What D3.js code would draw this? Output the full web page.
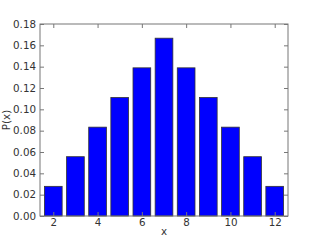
<!DOCTYPE html>
<html>
<head>
<meta charset="utf-8">
<script src="https://cdn.jsdelivr.net/npm/d3@7"></script>
<style>
  body { margin: 0; background: #fff; }
  text { font-family: "DejaVu Sans", sans-serif; }
</style>
</head>
<body>
<script>
// sum of two dice
var xs = [2, 3, 4, 5, 6, 7, 8, 9, 10, 11, 12];
var probs = [0.0278, 0.0556, 0.0833, 0.1111, 0.1389, 0.1667, 0.1389, 0.1111, 0.0833, 0.0556, 0.0278];
var xTicks = [2, 4, 6, 8, 10, 12];
var yTicks = [0, 0.02, 0.04, 0.06, 0.08, 0.10, 0.12, 0.14, 0.16, 0.18];

var margin = {top: 24, right: 32, bottom: 24, left: 40},
    width = 320 - margin.left - margin.right,
    height = 240 - margin.top - margin.bottom;

var svg = d3.select("body").append("svg")
    .attr("width", 320)
    .attr("height", 240);

var g = svg.append("g")
    .attr("transform", "translate(" + margin.left + "," + margin.top + ")");

var x = d3.scaleLinear().domain([1.4, 12.6]).range([0, width]);
var y = d3.scaleLinear().domain([0, 0.18]).range([height, 0]);
var barW = 0.8;

g.selectAll(".bar")
    .data(xs)
  .enter().append("rect")
    .attr("class", "bar")
    .attr("x", function(d) { return x(d - barW / 2); })
    .attr("width", function(d) { return x(d + barW / 2) - x(d - barW / 2); })
    .attr("y", function(d, i) { return y(probs[i]); })
    .attr("height", function(d, i) { return height - y(probs[i]); })
    .style("fill", "#0000ff")
    .style("stroke", "#333")
    .style("stroke-width", 0.8);

function styleAxis(sel) {
  sel.select(".domain").remove();
  sel.selectAll(".tick line").attr("stroke", "#777");
  sel.selectAll(".tick text").attr("fill", "#333")
    .style("font-size", "10.3px");
}

// axes with inward ticks, like matplotlib
g.append("g")
    .attr("transform", "translate(0," + height + ")")
    .call(d3.axisBottom(x).tickValues(xTicks).tickFormat(d3.format("d")).tickSizeInner(-4).tickPadding(3))
    .call(styleAxis);

g.append("g")
    .call(d3.axisLeft(y).tickValues(yTicks).tickFormat(d3.format(".2f")).tickSizeInner(-4).tickPadding(4))
    .call(styleAxis);

g.append("g")
    .call(d3.axisTop(x).tickValues(xTicks).tickSizeInner(-4).tickFormat(""))
    .call(styleAxis);

g.append("g")
    .attr("transform", "translate(" + width + ",0)")
    .call(d3.axisRight(y).tickValues(yTicks).tickSizeInner(-4).tickFormat(""))
    .call(styleAxis);

g.append("rect")
    .attr("width", width)
    .attr("height", height)
    .style("fill", "none")
    .style("stroke", "#777")
    .style("stroke-width", 1);

// labels
svg.append("text")
    .attr("x", margin.left + width / 2)
    .attr("y", 235)
    .attr("text-anchor", "middle")
    .attr("fill", "#333")
    .style("font-size", "10.3px")
    .text("x");

svg.append("text")
    .attr("transform", "translate(10," + (margin.top + height / 2) + ") rotate(-90)")
    .attr("text-anchor", "middle")
    .attr("fill", "#333")
    .style("font-size", "10.3px")
    .text("P(x)");
</script>
</body>
</html>
